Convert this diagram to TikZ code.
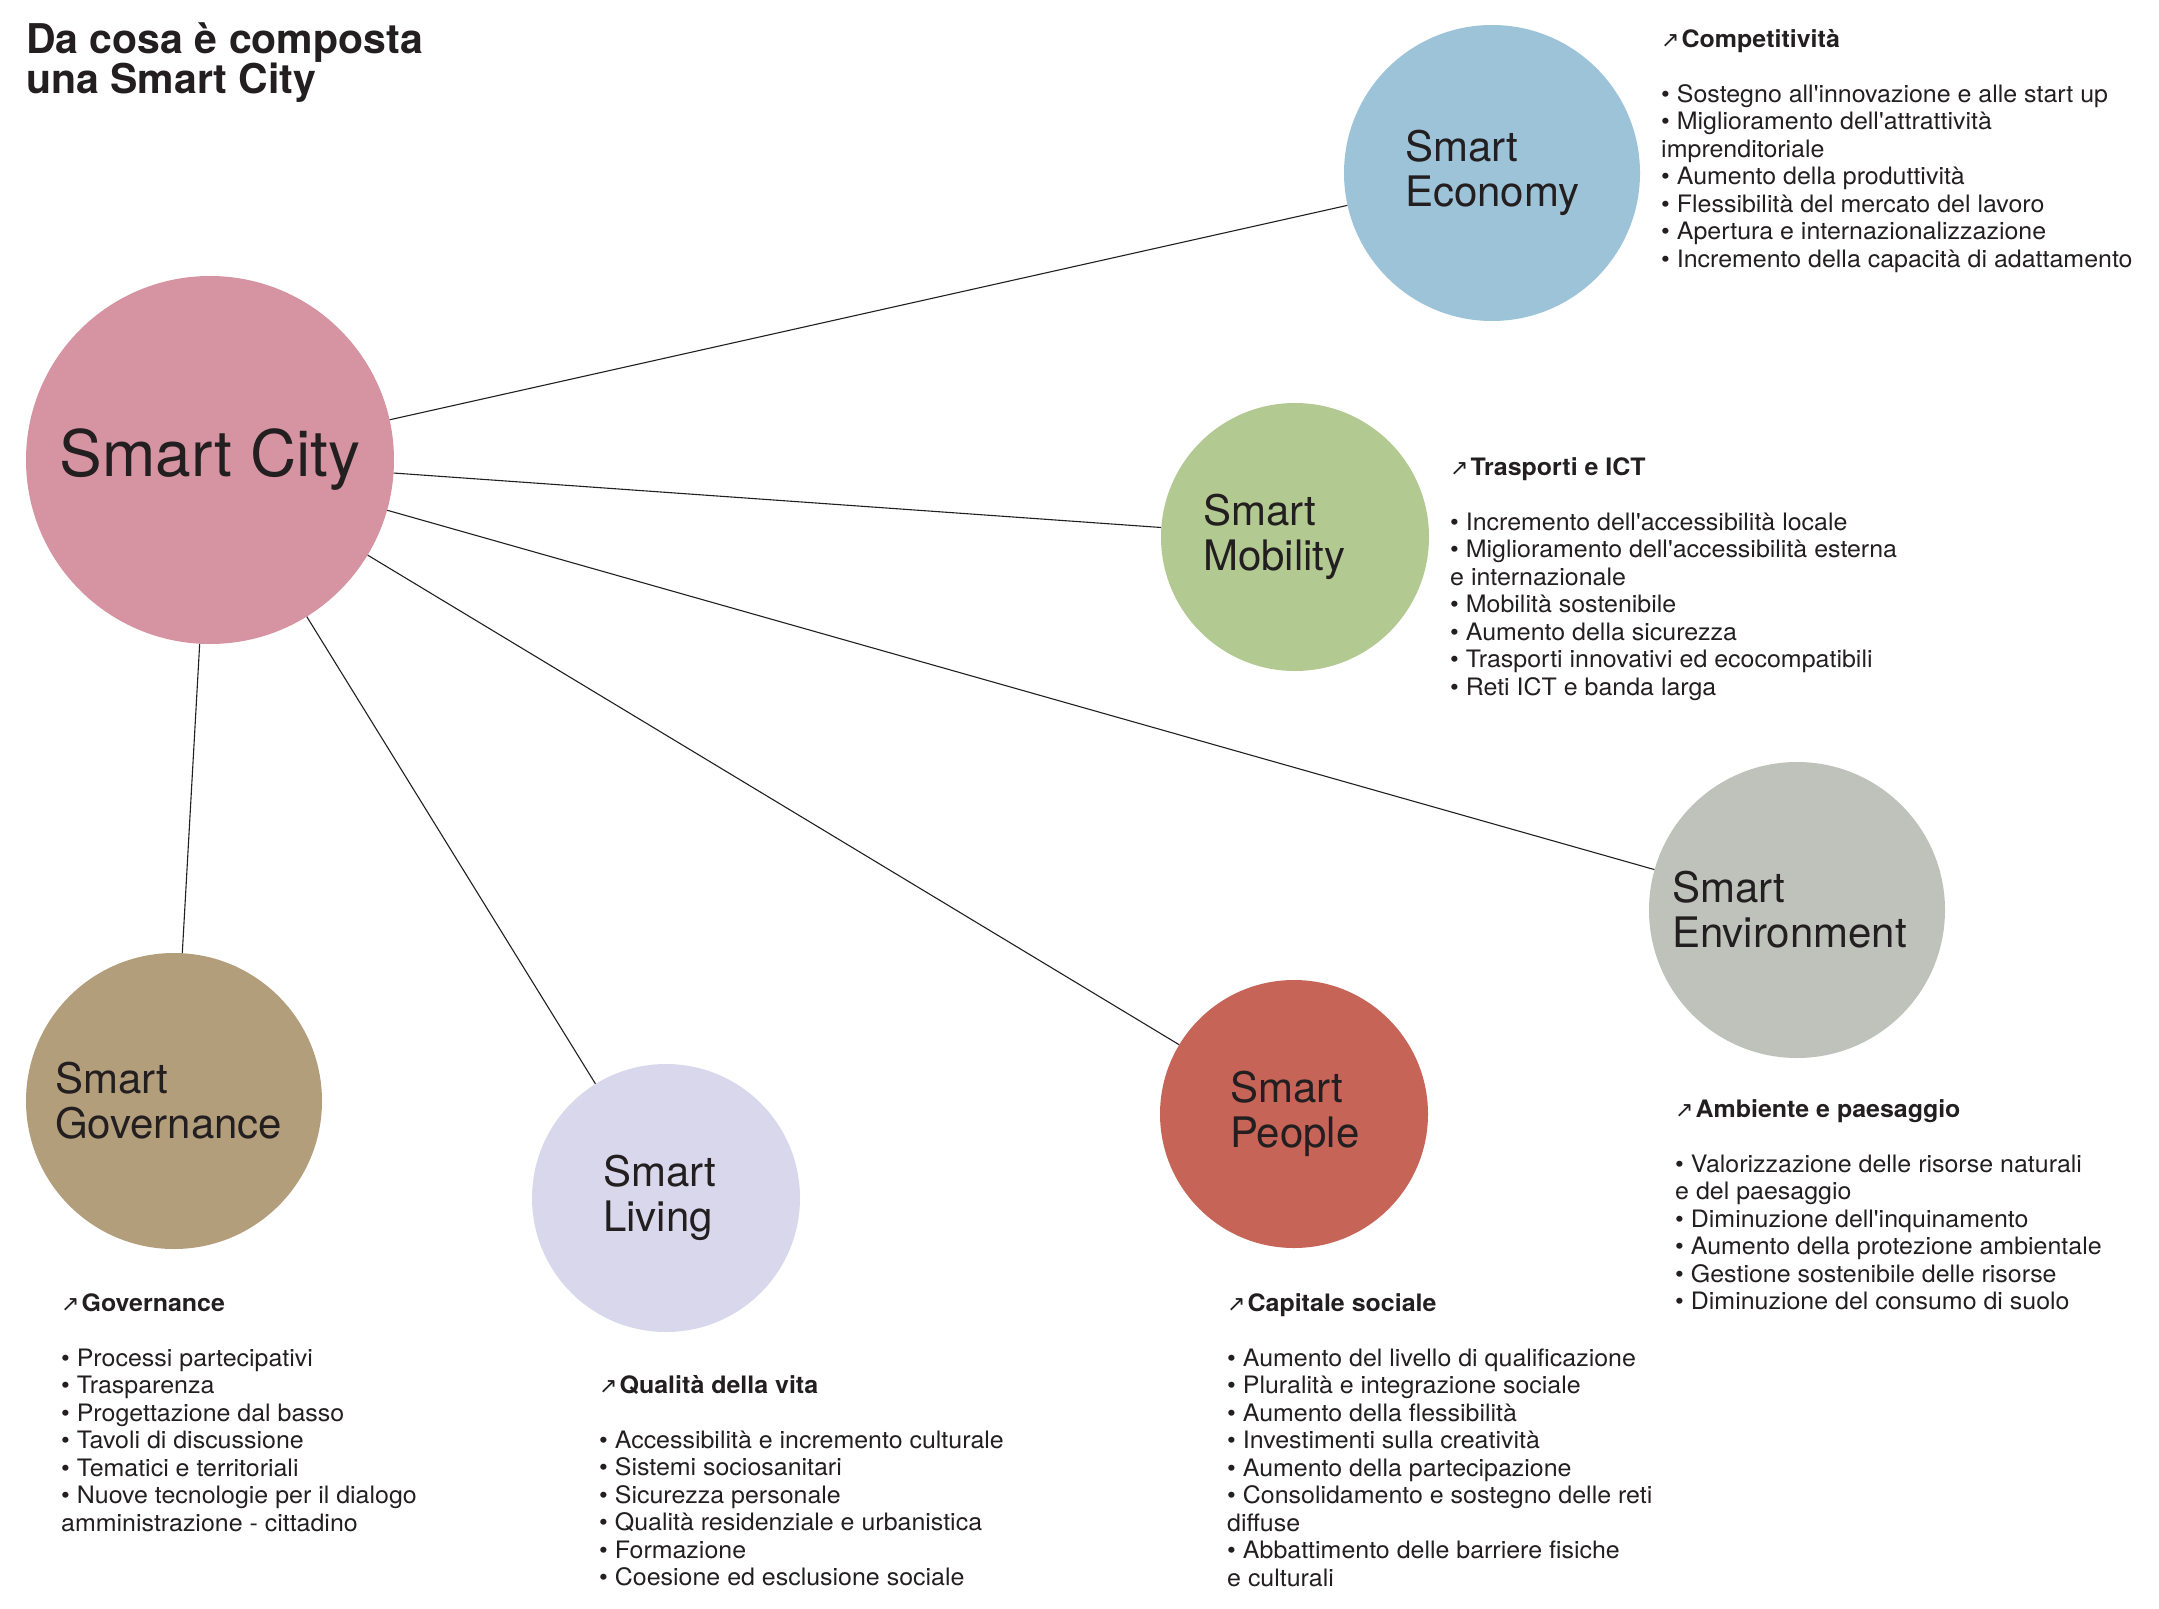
\documentclass[tikz,border=0pt]{standalone}
\usepackage{fontspec}
\setmainfont{TeX Gyre Heros}
\newfontfamily\bodyfont{TeX Gyre Heros}[FakeStretch=1.04]
\newfontfamily\arrowfont{DejaVu Sans}
\usepackage{xcolor}
\usepackage{tikz}
\usetikzlibrary{positioning}
\definecolor{ink}{HTML}{231F20}
\definecolor{cityrose}{HTML}{D694A2}
\definecolor{econblue}{HTML}{9DC3D9}
\definecolor{mobgreen}{HTML}{B3C992}
\definecolor{envgray}{HTML}{BFC2BA}
\definecolor{govtan}{HTML}{B39E7C}
\definecolor{peopred}{HTML}{C56457}
\definecolor{livlilac}{HTML}{D9D7EB}
\tikzset{
  hub/.style={circle, inner sep=0pt, minimum size=368pt, fill=cityrose, text=ink, font=\fontsize{64}{64}\selectfont},
  sat/.style={circle, inner sep=0pt, align=left, text=ink, font=\fontsize{42}{45}\selectfont},
  satbig/.style={sat, minimum size=296pt},
  satsmall/.style={sat, minimum size=268pt},
  link/.style={draw=ink, line width=1.1pt},
  info/.style={anchor=north west, inner sep=0pt, align=left, text=ink, font=\bodyfont\fontsize{24}{27.5}\selectfont},
  headline/.style={anchor=north west, inner sep=0pt, align=left, text=ink, font=\bfseries\fontsize{41}{40}\selectfont},
}
\newcommand{\topic}[1]{\rule{0pt}{18pt}{\arrowfont\fontsize{22}{22}\selectfont ↗}\hspace{2pt}\textbf{#1}}

\begin{document}
\begin{tikzpicture}[x=1pt, y=-1pt]
\useasboundingbox (0,0) rectangle (2159,1608);
\node[headline] (title) at (26,22) {\rule{0pt}{30pt}Da cosa è composta\\una Smart City};

\node[hub] (city) at (210,460) {Smart City};
\node[satbig, fill=econblue, text width=174pt] (economy) at (1492,173) {Smart\\Economy};
\node[satsmall, fill=mobgreen, text width=184pt] (mobility) at (1295,537) {Smart\\Mobility};
\node[satbig, fill=envgray, text width=250pt] (environment) at (1797,910) {Smart\\Environment};
\node[satsmall, fill=peopred, text width=128pt] (people) at (1294,1114) {Smart\\People};
\node[satsmall, fill=livlilac, text width=126pt] (living) at (666,1198) {Smart\\Living};
\node[satbig, fill=govtan, text width=238pt] (governance) at (174,1101) {Smart\\Governance};

\foreach \n in {economy,mobility,environment,people,living,governance}
  \draw[link] (city) -- (\n);

\node[info] (econinfo) at (1661,29) {\topic{Competitività}\\[27.5pt]
\textbullet\ Sostegno all'innovazione e alle start up\\
\textbullet\ Miglioramento dell'attrattività\\
imprenditoriale\\
\textbullet\ Aumento della produttività\\
\textbullet\ Flessibilità del mercato del lavoro\\
\textbullet\ Apertura e internazionalizzazione\\
\textbullet\ Incremento della capacità di adattamento};

\node[info] (mobinfo) at (1450,457) {\topic{Trasporti e ICT}\\[27.5pt]
\textbullet\ Incremento dell'accessibilità locale\\
\textbullet\ Miglioramento dell'accessibilità esterna\\
e internazionale\\
\textbullet\ Mobilità sostenibile\\
\textbullet\ Aumento della sicurezza\\
\textbullet\ Trasporti innovativi ed ecocompatibili\\
\textbullet\ Reti ICT e banda larga};

\node[info] (envinfo) at (1675,1099) {\topic{Ambiente e paesaggio}\\[27.5pt]
\textbullet\ Valorizzazione delle risorse naturali\\
e del paesaggio\\
\textbullet\ Diminuzione dell'inquinamento\\
\textbullet\ Aumento della protezione ambientale\\
\textbullet\ Gestione sostenibile delle risorse\\
\textbullet\ Diminuzione del consumo di suolo};

\node[info] (govinfo) at (61,1293) {\topic{Governance}\\[27.5pt]
\textbullet\ Processi partecipativi\\
\textbullet\ Trasparenza\\
\textbullet\ Progettazione dal basso\\
\textbullet\ Tavoli di discussione\\
\textbullet\ Tematici e territoriali\\
\textbullet\ Nuove tecnologie per il dialogo\\
amministrazione - cittadino};

\node[info] (livinfo) at (599,1375) {\topic{Qualità della vita}\\[27.5pt]
\textbullet\ Accessibilità e incremento culturale\\
\textbullet\ Sistemi sociosanitari\\
\textbullet\ Sicurezza personale\\
\textbullet\ Qualità residenziale e urbanistica\\
\textbullet\ Formazione\\
\textbullet\ Coesione ed esclusione sociale};

\node[info] (peoinfo) at (1227,1293) {\topic{Capitale sociale}\\[27.5pt]
\textbullet\ Aumento del livello di qualificazione\\
\textbullet\ Pluralità e integrazione sociale\\
\textbullet\ Aumento della flessibilità\\
\textbullet\ Investimenti sulla creatività\\
\textbullet\ Aumento della partecipazione\\
\textbullet\ Consolidamento e sostegno delle reti\\
diffuse\\
\textbullet\ Abbattimento delle barriere fisiche\\
e culturali};
\end{tikzpicture}
\end{document}
